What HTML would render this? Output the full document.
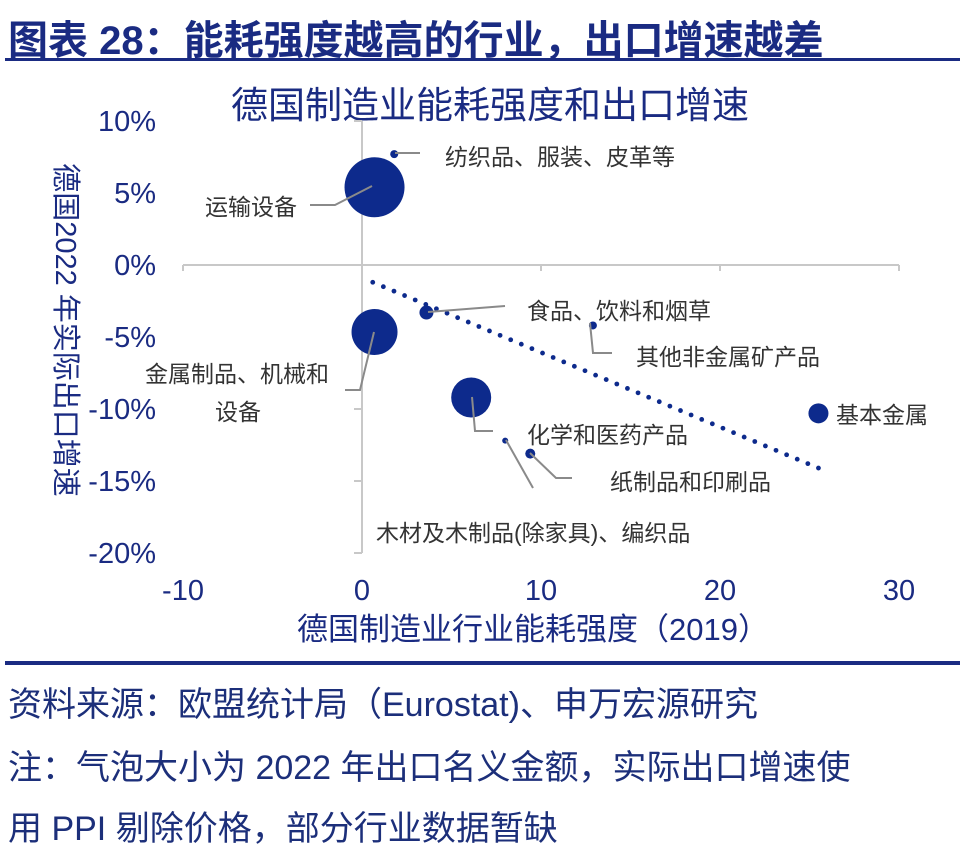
<!DOCTYPE html>
<html><head><meta charset="utf-8"><style>
body{margin:0;background:#fff;width:960px;height:843px;overflow:hidden;font-family:"Liberation Sans","Noto Sans CJK SC",sans-serif;}
.abs{position:absolute;white-space:nowrap;}
</style></head><body>
<div class="abs" style="left:8px;top:8px;font-size:40px;font-weight:bold;color:#1a2b82;letter-spacing:0px;">图表 28：能耗强度越高的行业，出口增速越差</div>
<div class="abs" style="left:5px;top:58px;width:955px;height:3px;background:#1a2b82;"></div>
<svg class="abs" style="left:0;top:0" width="960" height="660" id="chart"></svg>
<div class="abs" style="left:5px;top:661px;width:955px;height:4px;background:#1a2b82;"></div>
<div class="abs" style="left:8px;top:677px;font-size:34px;color:#1c2f7a;">资料来源：欧盟统计局（Eurostat)、申万宏源研究</div>
<div class="abs" style="left:8px;top:740px;font-size:34px;color:#1c2f7a;">注：气泡大小为 2022 年出口名义金额，实际出口增速使</div>
<div class="abs" style="left:8px;top:801px;font-size:34px;color:#1c2f7a;">用 PPI 剔除价格，部分行业数据暂缺</div>
<script>
const NS='http://www.w3.org/2000/svg';
const svg=document.getElementById('chart');
const categories=['纺织品、服装、皮革等','运输设备','金属制品、机械和设备','食品、饮料和烟草','其他非金属矿产品','化学和医药产品','木材及木制品(除家具)、编织品','纸制品和印刷品','基本金属'];
const energyIntensity=[1.8,0.7,0.7,3.6,12.9,6.1,8.0,9.4,25.5];
const exportGrowth=[7.7,5.4,-4.65,-3.3,-4.2,-9.2,-12.2,-13.1,-10.3];
const bubbleRadius=[4,30,23,7,4,20,3,5,10];
const trendX=[0.6,25.5];
const trendY=[-1.2,-14.1];
const xTicks=[-10,0,10,20,30];
const yTicks=[10,5,0,-5,-10,-15,-20];
const X=v=>362+v*17.9;
const Y=v=>265-v*14.4;
function mk(t,a){const e=document.createElementNS(NS,t);for(const k in a)e.setAttribute(k,a[k]);svg.appendChild(e);return e;}
let e;
e=mk('text',{x:490,y:118,'font-size':37,fill:'#1a2b82','text-anchor':'middle'});e.textContent='德国制造业能耗强度和出口增速';


e=mk('line',{x1:X(-10),y1:Y(0),x2:X(30),y2:Y(0),stroke:'#c8c8c8','stroke-width':2});


e=mk('line',{x1:X(0),y1:Y(10),x2:X(0),y2:Y(-20),stroke:'#c8c8c8','stroke-width':2});


xTicks.forEach(v=>{
 const l=mk('line',{x1:X(v),y1:Y(0),x2:X(v),y2:Y(0)+6,stroke:'#c8c8c8','stroke-width':2});
 
 
 const t=mk('text',{x:X(v),y:600,'font-size':29,fill:'#1a2b82','text-anchor':'middle'});t.textContent=v;
 
 
});
yTicks.forEach(v=>{
 const l=mk('line',{x1:X(0)-8,y1:Y(v),x2:X(0),y2:Y(v),stroke:'#c8c8c8','stroke-width':2});
 
 
 const t=mk('text',{x:156,y:Y(v)+10,'font-size':29,fill:'#1a2b82','text-anchor':'end'});t.textContent=v+'%';
 
 
});
e=mk('text',{x:533,y:640,'font-size':31,fill:'#1a2b82','text-anchor':'middle'});e.textContent='德国制造业行业能耗强度（2019）';


e=mk('text',{x:0,y:0,'font-size':29,fill:'#1a2b82','text-anchor':'middle',transform:'translate(56,330) rotate(90)'});e.textContent='德国2022 年实际出口增速';


const n=42;
for(let i=0;i<=n;i++){
 const vx=trendX[0]+(trendX[1]-trendX[0])*i/n, vy=trendY[0]+(trendY[1]-trendY[0])*i/n;
 const d=mk('circle',{cx:X(vx),cy:Y(vy),r:2.4,fill:'#0d2a8c'});
 
 
}
categories.forEach((c,i)=>{
 const b=mk('circle',{cx:X(energyIntensity[i]),cy:Y(exportGrowth[i]),r:bubbleRadius[i],fill:'#0d2a8c'});
 
 
});
const labels=[
 {i:0,pts:'395,153 420,153',tx:445,ty:165,txt:'纺织品、服装、皮革等'},
 {i:1,pts:'372,186 335,205 310,205',tx:205,ty:215,txt:'运输设备'},
 {i:2,pts:'374,332 360,390 345,390',tx:145,ty:382,txt:'金属制品、机械和'},
 {i:2,pts:'',tx:215,ty:420,txt:'设备'},
 {i:3,pts:'428,312 505,306',tx:527,ty:319,txt:'食品、饮料和烟草'},
 {i:4,pts:'590,323 593,353 612,353',tx:636,ty:365,txt:'其他非金属矿产品'},
 {i:5,pts:'472,397 475,431 493,431',tx:527,ty:443,txt:'化学和医药产品'},
 {i:6,pts:'506,440 533,488',tx:376,ty:541,txt:'木材及木制品(除家具)、编织品'},
 {i:7,pts:'530,453 556,478 572,478',tx:610,ty:490,txt:'纸制品和印刷品'},
 {i:8,pts:'',tx:836,ty:423,txt:'基本金属'}
];
labels.forEach(o=>{
 if(o.pts){const p=mk('polyline',{points:o.pts,fill:'none',stroke:'#8a8a8a','stroke-width':2});
 
 }
 const t=mk('text',{x:o.tx,y:o.ty,'font-size':23,fill:'#333'});t.textContent=o.txt;
 
 
});
</script>
</body></html>
